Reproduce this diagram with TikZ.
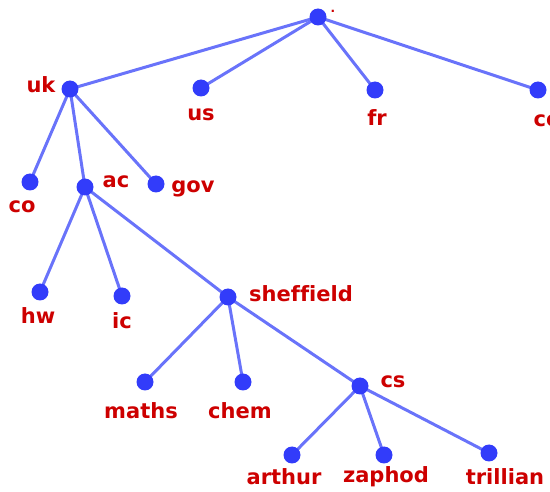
\documentclass[tikz,border=0pt]{standalone}
\usepackage{fontspec}
\setmainfont[Ligatures=NoCommon]{DejaVu Sans}
\usetikzlibrary{backgrounds}
\definecolor{edgeblue}{RGB}{105,115,250}
\definecolor{dotblue}{RGB}{50,60,250}
\definecolor{labred}{RGB}{205,0,0}
\begin{document}
\begin{tikzpicture}[x=1pt,y=-1pt,
  dot/.style={circle,fill=dotblue,inner sep=0pt,minimum size=17pt},
  lab/.style={text=labred,font=\bfseries\fontsize{21}{24}\selectfont,inner sep=0pt},
  edge/.style={draw=edgeblue,line width=3pt}]
\useasboundingbox (0,0) rectangle (550,492);
\node[dot] (root) at (318,17) {};
\node[dot] (uk) at (70,89) {};
\node[dot] (us) at (201,88) {};
\node[dot] (fr) at (375,90) {};
\node[dot] (ca) at (538,90) {};
\node[dot] (co) at (30,182) {};
\node[dot] (ac) at (85,187) {};
\node[dot] (gov) at (156,184) {};
\node[dot] (hw) at (40,292) {};
\node[dot] (ic) at (122,296) {};
\node[dot] (sh) at (228,297) {};
\node[dot] (maths) at (145,382) {};
\node[dot] (chem) at (243,382) {};
\node[dot] (cs) at (360,386) {};
\node[dot] (arthur) at (292,455) {};
\node[dot] (zaphod) at (384,455) {};
\node[dot] (trillian) at (489,453) {};
\begin{pgfonlayer}{background}
\foreach \a/\b in {root/uk,root/us,root/fr,root/ca,uk/co,uk/ac,uk/gov,ac/hw,ac/ic,ac/sh,sh/maths,sh/chem,sh/cs,cs/arthur,cs/zaphod,cs/trillian}
  \path[edge] (\a.center) -- (\b.center);
\end{pgfonlayer}
\node[lab,font=\bfseries\fontsize{12}{14}\selectfont,anchor=base] (lroot) at (333,13) {.};
\node[lab] (luk) at (41,85) {uk};
\node[lab] (lus) at (201,115) {us};
\node[lab] (lfr) at (377,118) {fr};
\node[lab] (lca) at (558,121) {com};
\node[lab] (lco) at (22,207) {co};
\node[lab] (lac) at (116,182) {ac};
\node[lab] (lgov) at (193,189) {gov};
\node[lab] (lhw) at (38,316) {hw};
\node[lab] (lic) at (122,321) {ic};
\node[lab] (lsh) at (301,294) {sheffield};
\node[lab] (lmaths) at (141,411) {maths};
\node[lab] (lchem) at (240,411) {chem};
\node[lab] (lcs) at (393,382) {cs};
\node[lab] (larthur) at (284,477) {arthur};
\node[lab] (lzaphod) at (386,477) {zaphod};
\node[lab] (ltrillian) at (505,477) {trillian};
\end{tikzpicture}
\end{document}
